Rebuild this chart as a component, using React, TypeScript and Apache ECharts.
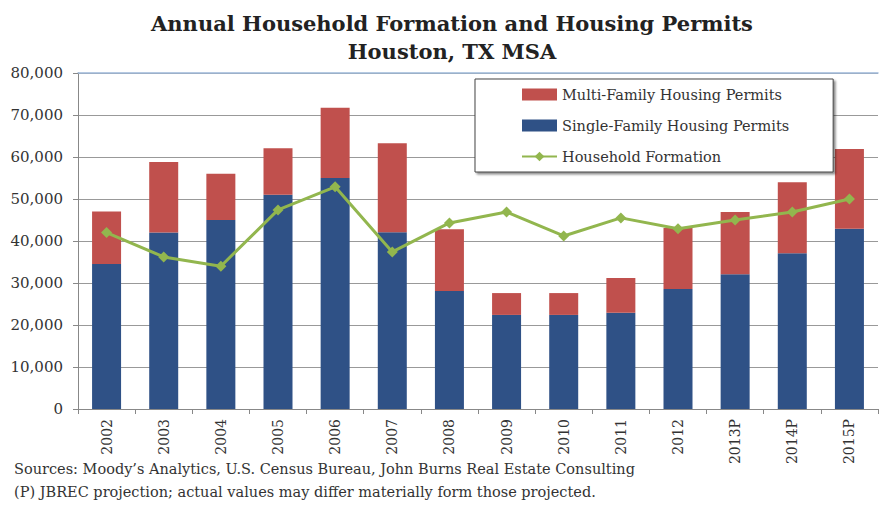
import React, { useEffect, useRef } from "react";
import * as echarts from "echarts";

const categories = ["2002", "2003", "2004", "2005", "2006", "2007", "2008", "2009", "2010", "2011", "2012", "2013P", "2014P", "2015P"];
const singleFamily = [34500, 42000, 45000, 51000, 55000, 42100, 28100, 22400, 22400, 22900, 28600, 32100, 37100, 42900];
const multiFamily = [12500, 16800, 11000, 11100, 16700, 21200, 14700, 5200, 5200, 8300, 14500, 14800, 16900, 19000];
const householdFormation = [42000, 36200, 34000, 47400, 52900, 37400, 44300, 46900, 41200, 45500, 42900, 45000, 46900, 50000];

const titleLines = ["Annual Household Formation and Housing Permits", "Houston, TX MSA"];
const footerLines = [
  "Sources: Moody\u2019s Analytics, U.S. Census Bureau, John Burns Real Estate Consulting",
  "(P) JBREC projection; actual values may differ materially form those projected.",
];

const FONT = "DejaVu Serif";

export default function App() {
  const ref = useRef<HTMLDivElement>(null);
  useEffect(() => {
    document.body.style.margin = "0";
    if (!ref.current) return;
    const chart = echarts.init(ref.current, null, { renderer: "svg" });
    chart.setOption({
      animation: false,
      backgroundColor: "#ffffff",
      title: {
        text: titleLines.join("\n"),
        left: 447,
        top: 4,
        textAlign: "center",
        textStyle: { fontFamily: FONT, fontWeight: "bold", fontSize: 21, color: "#222", lineHeight: 28 },
      },
      grid: { left: 78, right: 2, top: 73, bottom: 98, containLabel: false },
      legend: {
        orient: "vertical",
        left: 475,
        top: 79,
        padding: [8, 44, 8, 46],
        itemGap: 16,
        itemWidth: 35,
        itemHeight: 12,
        borderColor: "#444",
        borderWidth: 1,
        backgroundColor: "#fff",
        shadowColor: "rgba(0,0,0,0.45)",
        shadowBlur: 2,
        shadowOffsetX: 2,
        shadowOffsetY: 2,
        data: [
          { name: "Multi-Family Housing Permits", icon: "rect" },
          { name: "Single-Family Housing Permits", icon: "rect" },
          { name: "Household Formation" },
        ],
        textStyle: { fontFamily: FONT, fontSize: 14.5, color: "#333" },
      },
      xAxis: [
        {
          type: "category",
          data: categories,
          axisLine: { lineStyle: { color: "#888" } },
          axisTick: { show: true, length: 5, lineStyle: { color: "#888" } },
          axisLabel: { rotate: 90, margin: 10, fontFamily: FONT, fontSize: 14, color: "#333" },
        },
        {
          type: "category",
          data: categories,
          position: "top",
          axisLine: { show: true, lineStyle: { color: "#9db8d9", width: 1.5 } },
          axisTick: { show: false },
          axisLabel: { show: false },
        },
      ],
      yAxis: {
        type: "value",
        min: 0,
        max: 80000,
        interval: 10000,
        axisLine: { show: true, lineStyle: { color: "#888" } },
        axisTick: { show: true, length: 5, lineStyle: { color: "#888" } },
        splitLine: { lineStyle: { color: "#999", width: 1 } },
        axisLabel: {
          margin: 15,
          fontFamily: FONT,
          fontSize: 15,
          color: "#333",
          formatter: (v: number) => v.toLocaleString("en-US"),
        },
      },
      series: [
        {
          name: "Single-Family Housing Permits",
          type: "bar",
          stack: "permits",
          data: singleFamily,
          barWidth: 29,
          itemStyle: { color: "#2f5186" },
        },
        {
          name: "Multi-Family Housing Permits",
          type: "bar",
          stack: "permits",
          data: multiFamily,
          barWidth: 29,
          itemStyle: { color: "#c0504d" },
        },
        {
          name: "Household Formation",
          type: "line",
          data: householdFormation,
          symbol: "diamond",
          symbolSize: 11,
          z: 5,
          lineStyle: { color: "#92b64e", width: 3 },
          itemStyle: { color: "#92b64e" },
        },
      ],
      graphic: footerLines.map((t, i) => ({
        type: "text",
        left: 14,
        top: 461 + i * 23,
        style: { text: t, fontFamily: FONT, fontSize: 14.5, fill: "#333" },
      })),
    });
    return () => chart.dispose();
  }, []);
  return <div ref={ref} style={{ width: 880, height: 507 }} />;
}
